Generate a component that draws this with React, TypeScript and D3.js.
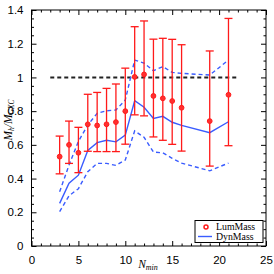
import React, { useEffect, useRef } from 'react';
import * as d3 from 'd3';

// N_min bins
const nMin = [3, 4, 5, 6, 7, 8, 9, 10, 11, 12, 13, 14, 15, 16, 19, 21];

// LumMass ratio with error bar limits
const lumMass = [0.53, 0.6, 0.553, 0.722, 0.715, 0.722, 0.735, 0.8, 1.003, 1.018, 0.89, 0.876, 0.86, 0.82, 0.741, 0.897];
const lumHi = [0.652, 0.741, 0.704, 0.9, 0.911, 0.935, 0.961, 1.055, 1.301, 1.335, 1.227, 1.232, 1.226, 1.194, 1.157, 1.35];
const lumLo = [0.428, 0.49, 0.435, 0.562, 0.56, 0.56, 0.56, 0.604, 0.778, 0.772, 0.647, 0.627, 0.603, 0.563, 0.474, 0.595];

// DynMass ratio with dashed envelope
const dynMass = [0.253, 0.372, 0.42, 0.567, 0.613, 0.627, 0.618, 0.658, 0.862, 0.823, 0.757, 0.769, 0.734, 0.716, 0.672, 0.737];
const dynHi = [0.322, 0.48, 0.62, 0.718, 0.787, 0.802, 0.807, 0.866, 1.103, 1.085, 1.04, 1.064, 1.03, 1.024, 1.014, 1.103];
const dynLo = [0.204, 0.298, 0.34, 0.441, 0.49, 0.49, 0.478, 0.51, 0.683, 0.645, 0.557, 0.553, 0.52, 0.492, 0.446, 0.492];

// reference line M_h / M_GXC = 1
const refLine = { x0: 2, x1: 22, y: 1 };

const xMajor = [0, 5, 10, 15, 20, 25];
const yMajor = [0, 0.2, 0.4, 0.6, 0.8, 1, 1.2, 1.4];

const RED = '#ff1a1a';
const BLUE = '#3a5cff';

export default function App() {
  const svgRef = useRef<SVGSVGElement | null>(null);

  useEffect(() => {
    if (!svgRef.current) return;
    const svg = d3.select(svgRef.current);
    svg.selectAll('*').remove();

    const x = d3.scaleLinear().domain([0, 25]).range([31.5, 266]);
    const y = d3.scaleLinear().domain([0, 1.4]).range([246, 10]);

    const xMinor = d3.range(0, 26, 1).filter((v) => v % 5 !== 0);
    const yMinor = d3.range(0, 1.401, 0.05).filter((v) => Math.abs(v / 0.2 - Math.round(v / 0.2)) > 1e-6);

    const tickFont = (g: d3.Selection<SVGGElement, unknown, null, undefined>) => {
      g.select('.domain').remove();
      g.selectAll('text').attr('font-family', 'Liberation Sans, Arial, sans-serif').attr('font-size', 11.5).attr('fill', '#000');
      g.selectAll('line').attr('stroke', '#000');
    };

    // Bottom axis
    svg.append('g').attr('transform', `translate(0,${y(0)})`)
      .call(d3.axisBottom(x).tickValues(xMajor).tickSize(-5).tickPadding(10).tickFormat(d3.format('d')))
      .call(tickFont);
    svg.append('g').attr('transform', `translate(0,${y(0)})`)
      .call(d3.axisBottom(x).tickValues(xMinor).tickSize(-2.5).tickFormat(() => ''))
      .call(tickFont);
    // Top axis
    svg.append('g').attr('transform', `translate(0,${y(1.4)})`)
      .call(d3.axisTop(x).tickValues(xMajor).tickSize(-5).tickFormat(() => ''))
      .call(tickFont);
    svg.append('g').attr('transform', `translate(0,${y(1.4)})`)
      .call(d3.axisTop(x).tickValues(xMinor).tickSize(-2.5).tickFormat(() => ''))
      .call(tickFont);
    // Left axis
    svg.append('g').attr('transform', `translate(${x(0)},0)`)
      .call(d3.axisLeft(y).tickValues(yMajor).tickSize(-5).tickPadding(8).tickFormat((d) => String(+(+d).toFixed(1))))
      .call(tickFont);
    svg.append('g').attr('transform', `translate(${x(0)},0)`)
      .call(d3.axisLeft(y).tickValues(yMinor).tickSize(-2.5).tickFormat(() => ''))
      .call(tickFont);
    // Right axis
    svg.append('g').attr('transform', `translate(${x(25)},0)`)
      .call(d3.axisRight(y).tickValues(yMajor).tickSize(-5).tickFormat(() => ''))
      .call(tickFont);
    svg.append('g').attr('transform', `translate(${x(25)},0)`)
      .call(d3.axisRight(y).tickValues(yMinor).tickSize(-2.5).tickFormat(() => ''))
      .call(tickFont);

    // Frame
    svg.append('rect')
      .attr('x', x(0)).attr('y', y(1.4))
      .attr('width', x(25) - x(0)).attr('height', y(0) - y(1.4))
      .attr('fill', 'none').attr('stroke', '#000').attr('stroke-width', 1);

    // Reference line at 1
    svg.append('line')
      .attr('x1', x(refLine.x0)).attr('x2', x(refLine.x1))
      .attr('y1', y(refLine.y)).attr('y2', y(refLine.y))
      .attr('stroke', '#222').attr('stroke-width', 2).attr('stroke-dasharray', '4,3');

    // DynMass lines
    const idx = d3.range(nMin.length);
    const lineOf = (arr: number[]) => d3.line<number>().x((i) => x(nMin[i])).y((i) => y(arr[i]))(idx);
    svg.append('path').attr('d', lineOf(dynHi)).attr('fill', 'none').attr('stroke', BLUE)
      .attr('stroke-width', 1.4).attr('stroke-dasharray', '4,3');
    svg.append('path').attr('d', lineOf(dynLo)).attr('fill', 'none').attr('stroke', BLUE)
      .attr('stroke-width', 1.4).attr('stroke-dasharray', '4,3');
    svg.append('path').attr('d', lineOf(dynMass)).attr('fill', 'none').attr('stroke', BLUE)
      .attr('stroke-width', 1.4);

    // LumMass error bars
    const bars = svg.append('g').attr('stroke', RED).attr('stroke-width', 1.3);
    idx.forEach((i) => {
      const cx = x(nMin[i]);
      bars.append('line').attr('x1', cx).attr('x2', cx).attr('y1', y(lumLo[i])).attr('y2', y(lumHi[i]));
      bars.append('line').attr('x1', cx - 4).attr('x2', cx + 4).attr('y1', y(lumLo[i])).attr('y2', y(lumLo[i]));
      bars.append('line').attr('x1', cx - 4).attr('x2', cx + 4).attr('y1', y(lumHi[i])).attr('y2', y(lumHi[i]));
    });
    svg.append('g').selectAll('circle').data(idx).join('circle')
      .attr('cx', (i) => x(nMin[i])).attr('cy', (i) => y(lumMass[i])).attr('r', 2.4)
      .attr('fill', '#ff3030').attr('stroke', RED).attr('stroke-width', 1);

    // Legend
    const lg = svg.append('g');
    lg.append('rect').attr('x', 195).attr('y', 220.5).attr('width', 68).attr('height', 22)
      .attr('fill', '#fff').attr('stroke', '#000').attr('stroke-width', 1);
    lg.append('circle').attr('cx', 206).attr('cy', 227).attr('r', 2)
      .attr('fill', '#fff').attr('stroke', RED).attr('stroke-width', 1.5);
    lg.append('line').attr('x1', 198).attr('x2', 212).attr('y1', 236.5).attr('y2', 236.5)
      .attr('stroke', BLUE).attr('stroke-width', 1.4);
    const serif = 'Liberation Serif, Times New Roman, serif';
    lg.append('text').attr('x', 216).attr('y', 230).attr('font-family', serif).attr('font-size', 9.8).text('LumMass');
    lg.append('text').attr('x', 216).attr('y', 240).attr('font-family', serif).attr('font-size', 9.8).text('DynMass');

    // Axis labels
    const xl = svg.append('text').attr('x', 148).attr('y', 268).attr('text-anchor', 'middle')
      .attr('font-family', serif).attr('font-style', 'italic').attr('font-size', 11.5);
    xl.append('tspan').text('N');
    xl.append('tspan').attr('font-size', 8).attr('dy', 2).text('min');

    const yl = svg.append('text').attr('transform', 'translate(12,120) rotate(-90)').attr('text-anchor', 'middle')
      .attr('font-family', serif).attr('font-style', 'italic').attr('font-size', 11.5);
    yl.append('tspan').text('M');
    yl.append('tspan').attr('font-size', 7.5).attr('dy', 2).text('h');
    yl.append('tspan').attr('dy', -2).text('/M');
    yl.append('tspan').attr('font-size', 7.5).attr('dy', 2).text('GXC');
  }, []);

  return (
    <svg
      ref={svgRef}
      width={274}
      height={274}
      style={{ position: 'absolute', left: 0, top: 0, background: '#fff' }}
    />
  );
}
